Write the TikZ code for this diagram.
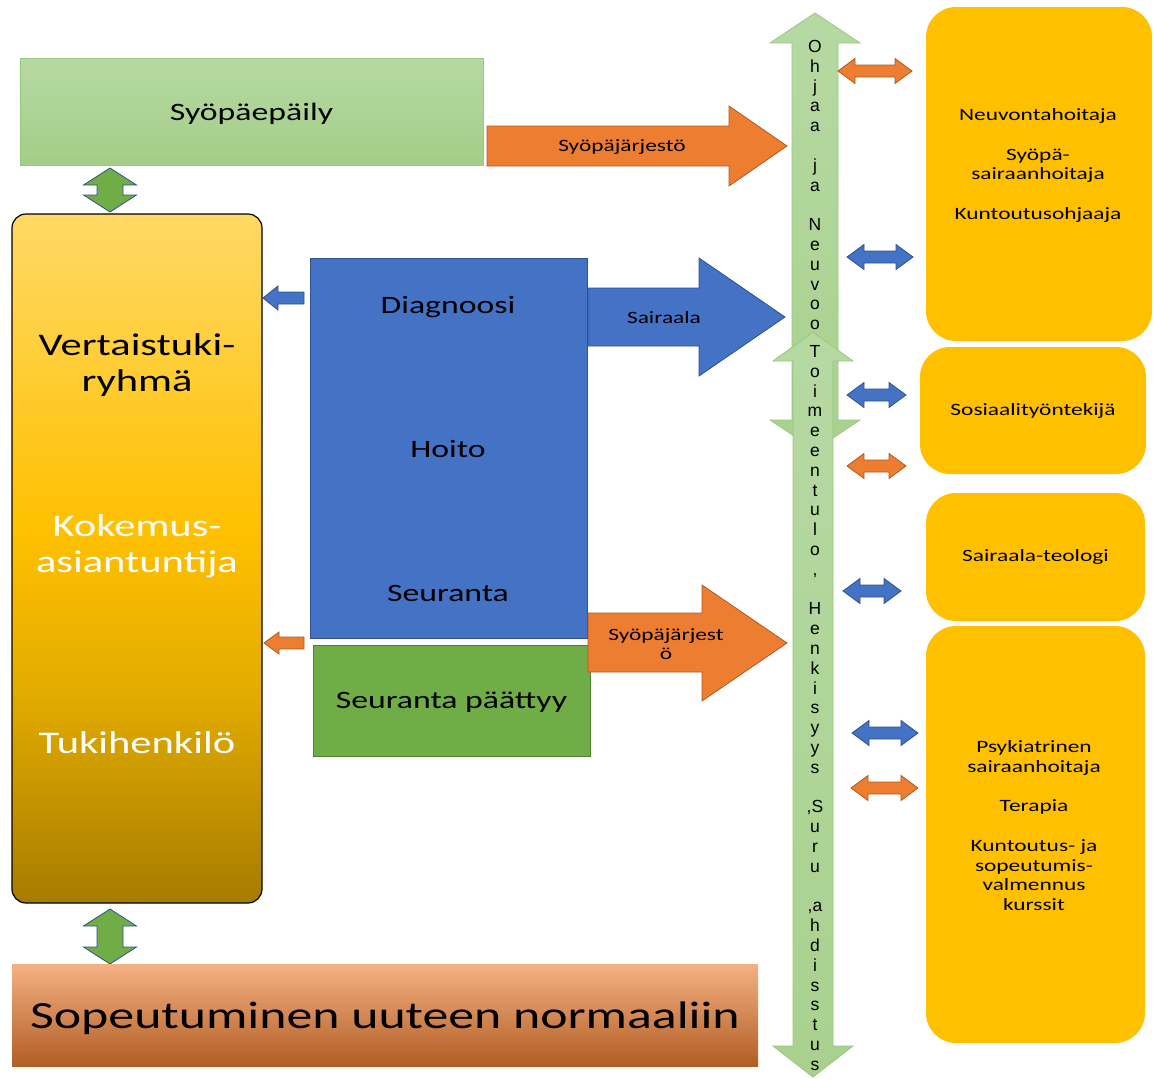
\documentclass[tikz,border=0pt]{standalone}
\usepackage{fontspec}
\setmainfont{Carlito}[FakeStretch=1.35]
\newfontfamily\vfont{Liberation Sans}

\definecolor{lgreen}{HTML}{A9D18E}
\definecolor{lgreentop}{HTML}{B6D9A3}
\definecolor{lgreenline}{HTML}{98C77F}
\definecolor{mgreen}{HTML}{70AD47}
\definecolor{mgreenline}{HTML}{507E32}
\definecolor{oblue}{HTML}{4472C4}
\definecolor{obluel}{HTML}{2F528F}
\definecolor{oorange}{HTML}{ED7D31}
\definecolor{oorangel}{HTML}{AE5A21}
\definecolor{ogold}{HTML}{FFC000}
\definecolor{goldtop}{HTML}{FFD966}
\definecolor{goldlow}{HTML}{E2AB00}
\definecolor{goldbot}{HTML}{A67C00}

\pgfdeclareverticalshading{goldshade}{100bp}{color(0bp)=(goldbot); color(25bp)=(goldbot); color(40bp)=(goldlow); color(52bp)=(ogold); color(75bp)=(goldtop); color(100bp)=(goldtop)}

\newcommand{\hdbl}[4]{\draw[#1] (#2,#4) -- ++(17,-12.5) -- ++(0,6.5) -- (#3-17,#4-6) -- ++(0,-6.5) -- (#3,#4) -- ++(-17,12.5) -- ++(0,-6.5) -- (#2+17,#4+6) -- ++(0,6.5) -- cycle;}
\newcommand{\vdbl}[4]{\draw[#1] (#2,#3) -- ++(26.5,17) -- ++(-13.5,0) -- (#2+13,#4-17) -- ++(13.5,0) -- (#2,#4) -- ++(-26.5,-17) -- ++(13.5,0) -- (#2-13,#3+17) -- ++(-13.5,0) -- cycle;}

\tikzset{
  oarr/.style={fill=oorange, draw=oorangel, line width=0.8pt},
  barr/.style={fill=oblue, draw=obluel, line width=0.8pt},
  gdbl/.style={fill=mgreen, draw=obluel, line width=0.8pt},
  varr/.style={top color=lgreentop, bottom color=lgreen, draw=lgreenline, line width=0.8pt},
  rbox/.style={fill=ogold, rounded corners=30pt},
  bigtxt/.style={font=\fontsize{31.5}{36}\selectfont, align=center},
  midtxt/.style={font=\fontsize{25}{30}\selectfont, text depth=0pt},
  smalltxt/.style={font=\fontsize{17.3}{19.8}\selectfont, align=center},
  vtxt/.style={font=\vfont\fontsize{17.5}{19.8}\selectfont, align=center, inner sep=0pt}
}

\begin{document}
\begin{tikzpicture}[x=1pt,y=-1pt]
\useasboundingbox (0,0) rectangle (1154,1079);

\draw[varr] (815,13) -- (860,43) -- (838,43) -- (838,420) -- (860,420) -- (815,450) -- (770,420) -- (792,420) -- (792,43) -- (770,43) -- cycle;
\node[vtxt] (ohjaa) at (815,185) {O\\h\\j\\a\\a\\~\\j\\a\\~\\N\\e\\u\\v\\o\\o};
\draw[varr] (813,332) -- (853,361) -- (833,361) -- (833,1046) -- (853,1046) -- (813,1077) -- (773,1046) -- (793,1046) -- (793,361) -- (773,361) -- cycle;
\node[vtxt] (toimeen) at (815,708) {T\\o\\i\\m\\e\\e\\n\\t\\u\\l\\o\\,\\~\\H\\e\\n\\k\\i\\s\\y\\y\\s\\~\\,S\\u\\r\\u\\~\\,a\\h\\d\\i\\s\\s\\t\\u\\s};

\node[midtxt, top color=lgreentop, bottom color=lgreen!90!mgreen, draw=lgreenline, line width=0.8pt, minimum width=463, minimum height=107] (epaily) at (251.5,111.5) {Syöpäepäily};
\vdbl{gdbl}{110}{168}{212}

\node[draw=black, line width=1.2pt, rounded corners=14pt, shading=goldshade, minimum width=250, minimum height=689] (vertais) at (137,558.5) {};
\node[bigtxt] (vertaisT) at (137,365) {Vertaistuki-\\ryhmä};
\node[bigtxt, text=white] (kokemus) at (137,546) {Kokemus-\\asiantuntija};
\node[bigtxt, text=white] (tukih) at (137,743) {Tukihenkilö};

\node[fill=oblue, draw=obluel, line width=0.8pt, minimum width=277, minimum height=380] (hoito) at (448.5,448) {};
\node[midtxt] (diag) at (448,305) {Diagnoosi};
\node[midtxt] (hoitoT) at (448,449) {Hoito};
\node[midtxt] (seur) at (448,593) {Seuranta};
\node[midtxt, fill=mgreen, draw=mgreenline, line width=0.8pt, minimum width=277, minimum height=111] (paattyy) at (451.5,700.5) {Seuranta päättyy};

\draw[barr] (263,298) -- (278,286) -- (278,292) -- (304,292) -- (304,304) -- (278,304) -- (278,310) -- cycle;
\draw[oarr] (264,643) -- (279,632) -- (279,637) -- (304,637) -- (304,649) -- (279,649) -- (279,654) -- cycle;

\draw[oarr] (487,126) -- (729,126) -- (729,106) -- (787,146) -- (729,186) -- (729,166) -- (487,166) -- cycle;
\node[smalltxt] (jarj1) at (622,147) {Syöpäjärjestö};
\draw[barr] (588,288) -- (699,288) -- (699,258) -- (785,317) -- (699,376) -- (699,346) -- (588,346) -- cycle;
\node[smalltxt] (sairaala) at (664,318) {Sairaala};
\draw[oarr] (588,613) -- (702,613) -- (702,585) -- (787,643) -- (702,701) -- (702,672) -- (588,672) -- cycle;
\node[smalltxt] (jarj2) at (666,644) {Syöpäjärjest\\ö};

\vdbl{gdbl}{110}{909}{964}
\node[font=\fontsize{38.4}{44}\selectfont, text depth=0pt, top color=oorange!60!white, middle color=oorange, bottom color=oorange!75!black, minimum width=746, minimum height=102] (sopeut) at (385,1015) {Sopeutuminen uuteen normaaliin};

\node[rbox, minimum width=226, minimum height=334] (neuvo) at (1039,174) {};
\node[smalltxt] (neuvoT) at (1038,165.5) {Neuvontahoitaja\\~\\Syöpä-\\sairaanhoitaja\\~\\Kuntoutusohjaaja};
\node[rbox, smalltxt, minimum width=226, minimum height=127] (sosiaali) at (1033,410.5) {Sosiaalityöntekijä};
\node[rbox, smalltxt, minimum width=219, minimum height=128] (teologi) at (1035.5,557) {Sairaala-teologi};
\node[rbox, minimum width=219, minimum height=417] (psyk) at (1035.5,834.5) {};
\node[smalltxt] (psykT) at (1034,825.5) {Psykiatrinen\\sairaanhoitaja\\~\\Terapia\\~\\Kuntoutus- ja\\sopeutumis-\\valmennus\\kurssit};

\hdbl{oarr}{838}{912}{71}
\hdbl{barr}{847}{913}{257}
\hdbl{barr}{847}{906}{395}
\hdbl{oarr}{847}{906}{466}
\hdbl{barr}{843}{901}{591}
\hdbl{barr}{852}{918}{733}
\hdbl{oarr}{851}{918}{788}
\end{tikzpicture}
\end{document}
